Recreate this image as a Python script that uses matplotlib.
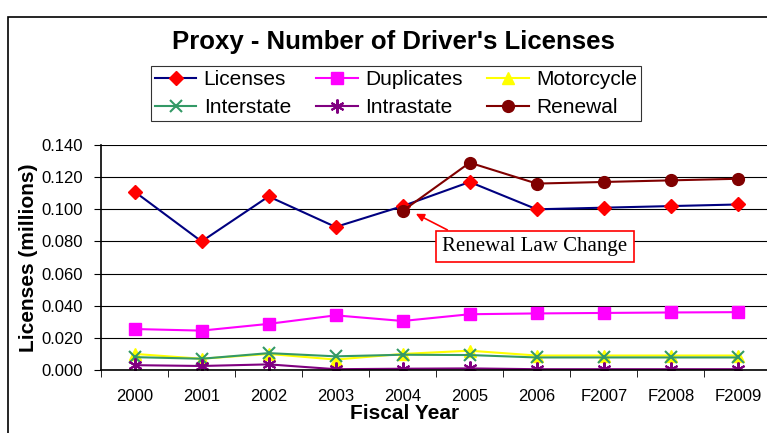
import numpy as np
import matplotlib
matplotlib.use("Agg")
import matplotlib.pyplot as plt
from matplotlib.patches import Rectangle

years = ["2000", "2001", "2002", "2003", "2004", "2005", "2006", "F2007", "F2008", "F2009"]
licenses = [0.111, 0.080, 0.108, 0.089, 0.102, 0.117, 0.100, 0.101, 0.102, 0.103]
duplicates = [0.0255, 0.0245, 0.0287, 0.0340, 0.0305, 0.0347, 0.0352, 0.0355, 0.0358, 0.0360]
motorcycle = [0.0100, 0.0070, 0.0100, 0.0065, 0.0100, 0.0120, 0.0090, 0.0090, 0.0090, 0.0090]
interstate = [0.0080, 0.0070, 0.0105, 0.0085, 0.0095, 0.0093, 0.0078, 0.0078, 0.0078, 0.0078]
intrastate = [0.0030, 0.0025, 0.0035, 0.0005, 0.0008, 0.0010, 0.0005, 0.0005, 0.0005, 0.0005]
renewal = [np.nan, np.nan, np.nan, np.nan, 0.099, 0.129, 0.116, 0.117, 0.118, 0.119]

plt.rcParams['font.family'] = ['Liberation Sans', 'DejaVu Sans']

fig = plt.figure(figsize=(7.67, 4.33), dpi=100)
ax = fig.add_axes([0.1317, 0.1455, 0.874, 0.5196])

# outer chart frame
fig.patches.append(Rectangle((8 / 767, -0.1), 1.2, 1 - 17 / 433 + 0.1, transform=fig.transFigure,
                             fill=False, edgecolor='black', linewidth=1.2))

x = np.arange(len(years))
h1, = ax.plot(x, licenses, color='#000080', lw=1.5, marker='D', ms=7.5, mfc='red', mec='red', label='Licenses')
h2, = ax.plot(x, duplicates, color='#ff00ff', lw=1.5, marker='s', ms=9, mfc='#ff00ff', mec='#ff00ff', label='Duplicates')
h3, = ax.plot(x, motorcycle, color='#ffff00', lw=1.5, marker='^', ms=9, mfc='#ffff00', mec='#ffff00', label='Motorcycle')
h4, = ax.plot(x, interstate, color='#339966', lw=1.5, marker='x', ms=9, mew=1.5, label='Interstate')
h5, = ax.plot(x, intrastate, color='#800080', lw=1.5, marker=(6, 2, 0), ms=10, mew=1.5, label='Intrastate')
h6, = ax.plot(x, renewal, color='#800000', lw=1.5, marker='o', ms=8.5, mfc='#800000', mec='#800000', label='Renewal')

ax.set_xlim(-0.5, len(years) - 0.5)
ax.set_ylim(0, 0.14)
yt = np.arange(0, 0.141, 0.02)
ax.set_yticks(yt)
ax.set_yticklabels([f"{v:.3f}" for v in yt], fontsize=12)
ax.set_xticks(x)
ax.set_xticklabels(years, fontsize=12)
ax.set_xticks(np.arange(-0.5, len(years)), minor=True)
ax.tick_params(axis='x', which='major', length=0, pad=14)
ax.tick_params(axis='x', which='minor', length=5, direction='out')
ax.tick_params(axis='y', length=5, direction='out', pad=8)
ax.yaxis.grid(True, color='black', lw=0.8)
ax.set_axisbelow(True)
for s in ['top', 'right']:
    ax.spines[s].set_visible(False)
ax.spines['left'].set_linewidth(1.2)
ax.spines['bottom'].set_linewidth(1.2)

ax.set_ylabel("Licenses (millions)", fontsize=15, fontweight='bold')
ax.yaxis.set_label_coords(-0.094, 0.5)
ax.set_xlabel("Fiscal Year", fontsize=15, fontweight='bold')
ax.xaxis.set_label_coords(0.453, -0.152)

fig.text(393 / 767, 1 - 42 / 433, "Proxy - Number of Driver's Licenses", fontsize=18.5, fontweight='bold',
         ha='center', va='center')

# column-major order so rows read Licenses, Duplicates, Motorcycle / Interstate, Intrastate, Renewal
handles = [h1, h4, h2, h5, h3, h6]
leg = fig.legend(handles, [h.get_label() for h in handles], loc='center',
                 bbox_to_anchor=(396 / 767, 1 - 93.5 / 433), ncol=3, fontsize=15,
                 frameon=True, fancybox=False, edgecolor='black', handlelength=2.0,
                 handletextpad=0.35, columnspacing=1.2, borderpad=0.2, labelspacing=0.45,
                 borderaxespad=0)
leg.get_frame().set_linewidth(0.8)

ax.annotate("Renewal Law Change", xy=(4.16, 0.098), xytext=(5.97, 0.077),
            fontsize=15, family=['Liberation Serif', 'DejaVu Serif'], ha='center', va='center',
            bbox=dict(boxstyle='square,pad=0.3', fc='white', ec='red', lw=1.2),
            arrowprops=dict(arrowstyle='-|>', color='red', lw=1.2, shrinkA=0, shrinkB=2,
                            mutation_scale=12, relpos=(0.1, 1.0)))

fig.savefig("out.png", dpi=100)
